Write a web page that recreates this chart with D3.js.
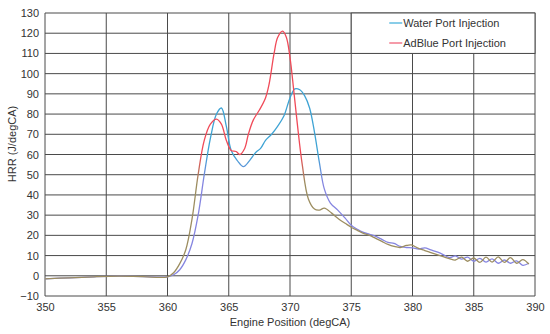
<!DOCTYPE html>
<html>
<head>
<meta charset="utf-8">
<script src="https://cdn.jsdelivr.net/npm/d3@7"></script>
<style>
  body { margin: 0; background: #fff; }
  svg { display: block; font-family: "Liberation Sans", Arial, sans-serif; }
  .tick text { fill: #333; font-size: 11px; }
</style>
</head>
<body>
<svg id="graph" width="550" height="334"></svg>
<script>
"use strict";

// crank angle (degCA) and heat release rate (J/degCA)
var waterAngle = [350, 352, 354, 356, 358, 360, 360.5, 361, 361.5, 362, 362.5, 363, 363.5, 364, 364.4,
  364.8, 365.2, 365.7, 366.2, 366.7, 367.2, 367.6, 368, 368.5, 369, 369.5, 370, 370.4, 370.8, 371.2,
  371.6, 372, 372.4, 372.8, 373.3, 373.9, 374.5, 375, 375.5, 376, 376.5, 377, 377.5, 378, 378.5, 379,
  379.5, 380, 380.5, 381, 381.5, 382, 382.5, 383, 383.5, 384, 384.5, 385, 385.5, 386, 386.5, 387,
  387.5, 388, 388.5, 389, 389.5];
var waterHrr = [-1.5, -1.0, -0.5, -0.2, -0.4, -0.5, 0.5, 3, 8, 16, 30, 50, 68, 80, 83,
  74, 62, 57, 54, 57, 61, 63, 67, 70, 74, 79, 88, 92.5, 92, 89,
  83, 71, 56, 43, 36, 32.5, 28.5, 25, 23, 21.5, 20.5, 19.5, 18, 16.5, 16, 14.5,
  14, 13.8, 13.2, 13.8, 12.8, 11.8, 10.5, 9, 9.8, 8.2, 9.2, 7.2, 8.6, 6.8, 8.4, 6.2,
  7.8, 6.2, 7.4, 5.2, 6.2];

var adblueAngle = [350, 352, 354, 356, 358, 360, 360.5, 361, 361.5, 362, 362.5, 363, 363.5, 364, 364.4,
  364.8, 365.2, 365.6, 365.9, 366.3, 366.6, 367, 367.5, 368, 368.3, 368.7, 369, 369.4, 369.7, 370,
  370.3, 370.6, 371, 371.5, 372, 372.4, 372.8, 373.4, 374, 374.5, 375, 375.5, 376, 376.5, 377, 377.5,
  378, 378.5, 379, 379.5, 379.9, 380.4, 381, 381.5, 382, 382.5, 383, 383.5, 384, 384.5, 385, 385.5,
  386, 386.5, 387, 387.5, 388, 388.5, 389, 389.5];
var adblueHrr = [-1.5, -1.0, -0.5, -0.2, -0.4, -0.5, 1.5, 6, 13, 28, 50, 67, 75, 77.5, 75,
  67, 62, 61.5, 60, 63, 70, 77, 82, 88, 95, 110, 118, 121, 118, 108,
  92, 75, 55, 38, 33, 32.5, 33.5, 31, 28, 26, 24, 22.5, 21, 20, 18.5, 17,
  15.5, 14.5, 14, 15, 15.3, 13.8, 12.5, 11.5, 10.5, 9.5, 8.5, 7.8, 9.2, 7.2, 8.8, 6.6,
  9.2, 6.8, 9.4, 6.6, 9, 6.2, 8, 5.8];

var xTicks = [350, 355, 360, 365, 370, 375, 380, 385, 390];
var yTicks = [-10, 0, 10, 20, 30, 40, 50, 60, 70, 80, 90, 100, 110, 120, 130];

var series = [
  {name: "Water Port Injection", x: waterAngle, y: waterHrr, top: "#3ea3d4", low: "#8585e0", key: "#62bde0"},
  {name: "AdBlue Port Injection", x: adblueAngle, y: adblueHrr, top: "#f04a58", low: "#9c8d60", key: "#f27a8c"}
];

var svg = d3.select("#graph"),
    margin = {top: 13, right: 15, bottom: 38, left: 45},
    width = 550 - margin.left - margin.right,
    height = 334 - margin.top - margin.bottom;

var x = d3.scaleLinear().domain([350, 390]).range([0, width]);
var y = d3.scaleLinear().domain([-10, 130]).range([height, 0]);

var plot = svg.append("g")
  .attr("transform", "translate(" + margin.left + "," + margin.top + ")");

// grid
var gridColor = "#4a4a4a";
plot.append("g").selectAll("line")
  .data(yTicks)
  .join("line")
  .attr("x1", 0).attr("x2", width)
  .attr("y1", d => y(d)).attr("y2", d => y(d))
  .attr("stroke", gridColor).attr("stroke-width", 1);
plot.append("g").selectAll("line")
  .data(xTicks)
  .join("line")
  .attr("x1", d => x(d)).attr("x2", d => x(d))
  .attr("y1", 0).attr("y2", height)
  .attr("stroke", gridColor).attr("stroke-width", 1);

// axes (labels only)
var xAxis = plot.append("g")
  .attr("transform", "translate(0," + height + ")")
  .call(d3.axisBottom(x).tickValues(xTicks).tickSize(0).tickPadding(7));
var yAxis = plot.append("g")
  .call(d3.axisLeft(y).tickValues(yTicks).tickSize(0).tickPadding(6)
    .tickFormat(d => d < 0 ? "\u2212" + Math.abs(d) : d));
xAxis.select(".domain").remove();
yAxis.select(".domain").remove();

// colour shift at the lower part of each curve
var defs = svg.append("defs");
series.forEach(function(s, i) {
  var g = defs.append("linearGradient")
    .attr("id", "grad" + i)
    .attr("gradientUnits", "userSpaceOnUse")
    .attr("x1", 0).attr("x2", 0)
    .attr("y1", y(60)).attr("y2", y(46));
  g.append("stop").attr("offset", 0).attr("stop-color", s.top);
  g.append("stop").attr("offset", 1).attr("stop-color", s.low);
});

var line = d3.line()
  .x(d => x(d[0]))
  .y(d => y(d[1]))
  .curve(d3.curveCatmullRom.alpha(0.5));

series.forEach(function(s, i) {
  plot.append("path")
    .datum(d3.zip(s.x, s.y))
    .attr("fill", "none")
    .attr("stroke", "url(#grad" + i + ")")
    .attr("stroke-width", 1.3)
    .attr("d", line);
});

// legend box
var lx = x(375), lw = width - x(375), lh = y(110);
var legend = plot.append("g");
legend.append("rect")
  .attr("x", lx).attr("y", 0)
  .attr("width", lw).attr("height", lh)
  .attr("fill", "#fff").attr("stroke", gridColor).attr("stroke-width", 1);
var items = legend.selectAll("g.item")
  .data(series)
  .join("g")
  .attr("class", "item")
  .attr("transform", (d, i) => "translate(" + (lx + 38) + "," + (10 + i * 20) + ")");
items.append("line")
  .attr("x1", 0).attr("x2", 13)
  .attr("stroke", d => d.key).attr("stroke-width", 1.5);
items.append("text")
  .attr("x", 14).attr("dy", "0.35em")
  .attr("font-size", 11).attr("fill", "#333")
  .text(d => d.name);

// axis titles
svg.append("text")
  .attr("text-anchor", "middle")
  .attr("x", margin.left + width / 2)
  .attr("y", 326)
  .attr("font-size", 11).attr("fill", "#333")
  .text("Engine Position (degCA)");

svg.append("text")
  .attr("text-anchor", "middle")
  .attr("transform", "translate(16," + 144 + ") rotate(-90)")
  .attr("font-size", 11).attr("fill", "#333")
  .text("HRR (J/degCA)");
</script>
</body>
</html>
